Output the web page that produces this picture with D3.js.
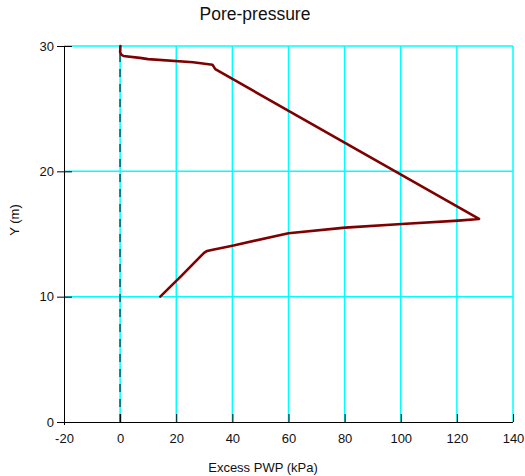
<!DOCTYPE html>
<html>
<head>
<meta charset="utf-8">
<script src="https://cdn.jsdelivr.net/npm/d3@7"></script>
<style>
  html, body { margin: 0; padding: 0; background: #fff; }
  svg { display: block; font-family: "Liberation Sans", Arial, sans-serif; }
</style>
</head>
<body>
<svg id="chart" width="525" height="476"></svg>
<script>
// Excess pore-water pressure profile (kPa) against elevation Y (m)
const pwp = [0.1, 0, 0.5, 1.2, 7, 10, 26, 32.9, 33.9, 127.9, 120.5, 100.4, 80.2, 60, 40, 33, 31, 29.9, 22, 14.3];
const elev = [30.0, 29.5, 29.3, 29.2, 29.05, 28.95, 28.7, 28.51, 28.15, 16.2, 16.07, 15.8, 15.51, 15.06, 14.07, 13.75, 13.65, 13.5, 11.7, 10.0];

// Reference line at zero excess pressure
const zeroLineX = [0, 0];
const zeroLineY = [0, 30];

const xTicks = [-20, 0, 20, 40, 60, 80, 100, 120, 140];
const yTicks = [0, 10, 20, 30];

const title = "Pore-pressure";
const xLabel = "Excess PWP (kPa)";
const yLabel = "Y (m)";

const svg = d3.select("#chart");
const plotL = 64, plotR = 513, plotT = 46, plotB = 422;

const x = d3.scaleLinear().domain([-20, 140]).range([plotL, plotR]);
const y = d3.scaleLinear().domain([0, 30]).range([plotB, plotT]);

// Grid
const grid = svg.append("g").attr("stroke", "#00ffff").attr("stroke-width", 1.5);
grid.selectAll("line.v").data(xTicks.filter(d => d !== -20)).join("line")
  .attr("class", "v")
  .attr("x1", d => x(d)).attr("x2", d => x(d))
  .attr("y1", y(0)).attr("y2", y(30));
grid.selectAll("line.h").data(yTicks.filter(d => d !== 0)).join("line")
  .attr("class", "h")
  .attr("x1", x(-20)).attr("x2", x(140))
  .attr("y1", d => y(d)).attr("y2", d => y(d));

// Zero-pressure dashed line
svg.append("path")
  .datum(d3.zip(zeroLineX, zeroLineY))
  .attr("d", d3.line().x(d => x(d[0])).y(d => y(d[1])))
  .attr("fill", "none")
  .attr("stroke", "#008080")
  .attr("stroke-width", 2)
  .attr("stroke-dasharray", "8,7");

// Axes (plain hyphen for negative labels)
const plain = d => String(d);
const xAxis = d3.axisBottom(x).tickValues(xTicks).tickFormat(plain)
  .tickSizeInner(-8).tickSizeOuter(0).tickPadding(12);
const gx = svg.append("g").attr("transform", `translate(0,${plotB})`).call(xAxis);
gx.select(".domain").attr("stroke", "#000").attr("d", `M${plotL},0.5H${plotR}`);
gx.selectAll("text").attr("font-size", 13).attr("fill", "#111").attr("font-family", "Liberation Sans, Arial, sans-serif");

const yAxis = d3.axisLeft(y).tickValues(yTicks).tickFormat(plain)
  .tickSizeInner(7).tickSizeOuter(0).tickPadding(3);
const gy = svg.append("g").attr("transform", `translate(${plotL},0)`).call(yAxis);
gy.select(".domain").attr("stroke", "#000").attr("d", `M0.5,${plotT}V${plotB + 3}`);
gy.selectAll("text").attr("font-size", 13).attr("fill", "#111").attr("font-family", "Liberation Sans, Arial, sans-serif");
// inner tick marks on the y axis
gy.selectAll(".tick").append("line").attr("x1", 0).attr("x2", 8).attr("stroke", "#000");

// Pore-pressure profile
svg.append("path")
  .datum(d3.zip(pwp, elev))
  .attr("d", d3.line().x(d => x(d[0])).y(d => y(d[1])))
  .attr("fill", "none")
  .attr("stroke", "#7f0000")
  .attr("stroke-width", 2.6)
  .attr("stroke-linejoin", "round")
  .attr("stroke-linecap", "round");

// Titles
svg.append("text").attr("x", 255).attr("y", 20).attr("text-anchor", "middle")
  .attr("font-size", 17.5).attr("fill", "#111").text(title);
svg.append("text").attr("x", 263).attr("y", 472).attr("text-anchor", "middle")
  .attr("font-size", 13).attr("fill", "#111").text(xLabel);
svg.append("text").attr("transform", "translate(19,220) rotate(-90)").attr("text-anchor", "middle")
  .attr("font-size", 13).attr("fill", "#111").text(yLabel);
</script>
</body>
</html>
